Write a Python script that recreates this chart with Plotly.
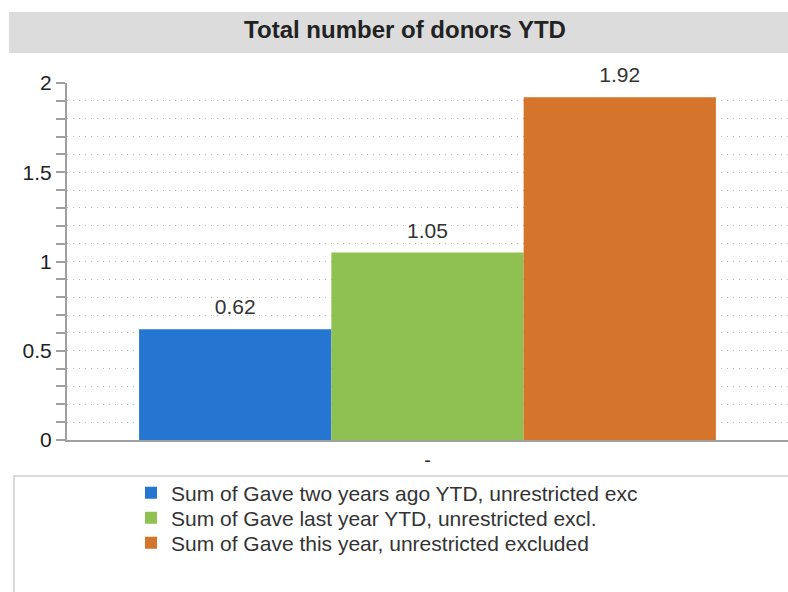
import plotly.graph_objects as go

categories = ["-"]
series_names = [
    "Sum of Gave two years ago YTD, unrestricted exc",
    "Sum of Gave last year YTD, unrestricted excl.",
    "Sum of Gave this year, unrestricted excluded",
]
series_values = [[0.62], [1.05], [1.92]]
series_colors = ["#2476d0", "#8fc152", "#d5752c"]
y_ticks = [0, 0.5, 1, 1.5, 2]
y_tick_labels = ["0", "0.5", "1", "1.5", "2"]
title_text = "Total number of donors YTD"

W, H = 788, 592
L, R, T, B = 67, 0, 83, 152
pw, ph = W - L - R, H - T - B

def px_x(p):
    return (p - L) / pw

def px_y(p):
    return (H - B - p) / ph

FONT = "Liberation Sans, Arial, Helvetica, sans-serif"
legend_ids = ["legend", "legend2", "legend3"]
legend_rows_px = [493, 518, 543]

fig = go.Figure()
for i, (name, vals, col) in enumerate(zip(series_names, series_values, series_colors)):
    fig.add_trace(go.Bar(
        x=categories, y=vals, name=name,
        marker=dict(color=col, line=dict(width=0)),
        offsetgroup=f"g{i}", alignmentgroup="all",
        legend=legend_ids[i], hoverinfo="name+y",
    ))
for i, vals in enumerate(series_values):
    fig.add_trace(go.Scatter(
        x=categories, y=vals, mode="markers+text",
        text=[f"{v:g}" for v in vals], textposition="top center",
        textfont=dict(size=21, color="#333333", family=FONT),
        marker=dict(size=14, color="rgba(0,0,0,0)"),
        offsetgroup=f"g{i}", alignmentgroup="all",
        showlegend=False, hoverinfo="skip", cliponaxis=False,
    ))

legend_common = dict(xanchor="left", yanchor="middle", bgcolor="rgba(0,0,0,0)",
                     borderwidth=0, font=dict(size=21, color="#333333", family=FONT))
layout_legends = {lid: dict(x=px_x(131), y=px_y(py), **legend_common)
                  for lid, py in zip(legend_ids, legend_rows_px)}

fig.update_layout(
    width=W, height=H,
    margin=dict(l=L, r=R, t=T, b=B, pad=0),
    paper_bgcolor="white", plot_bgcolor="white",
    barmode="group", bargap=0.2, bargroupgap=0,
    scattermode="group", scattergap=0.2,
    font=dict(family=FONT, size=20, color="#222222"),
    title=dict(text="<b>" + title_text + "</b>", x=405 / W, y=1 - 30 / H,
               xanchor="center", yanchor="middle",
               font=dict(size=24, color="#222222", family=FONT)),
    showlegend=True,
    shapes=[
        dict(type="rect", xref="paper", yref="paper",
             x0=px_x(9), x1=px_x(800), y0=px_y(53), y1=px_y(12),
             fillcolor="#dcdcdc", line=dict(width=0), layer="below"),
        dict(type="rect", xref="paper", yref="paper",
             x0=px_x(14), x1=px_x(800), y0=px_y(600), y1=px_y(476),
             fillcolor="rgba(0,0,0,0)", line=dict(width=1.5, color="#d0d0d0"), layer="below"),
    ],
    **layout_legends,
)
fig.update_xaxes(
    type="category", showline=True, linecolor="#a0a0a0", linewidth=2,
    ticks="", showgrid=False, tickfont=dict(size=20, color="#333333"), ticklabelstandoff=1,
)
fig.update_yaxes(
    range=[0, 2], tickmode="array", tickvals=y_ticks, ticktext=y_tick_labels,
    showline=True, linecolor="#a0a0a0", linewidth=2,
    ticks="outside", ticklen=9, tickcolor="#a0a0a0", tickwidth=2,
    showgrid=True, gridcolor="#b8b8b8", griddash="1px,5px", gridwidth=1,
    tickfont=dict(size=21, color="#222222"), zeroline=False,
    minor=dict(dtick=0.1, tick0=0, ticks="outside", ticklen=9, tickcolor="#a0a0a0", tickwidth=2,
               showgrid=True, gridcolor="#b8b8b8", griddash="1px,5px", gridwidth=1),
)

fig.write_html("out.html")
